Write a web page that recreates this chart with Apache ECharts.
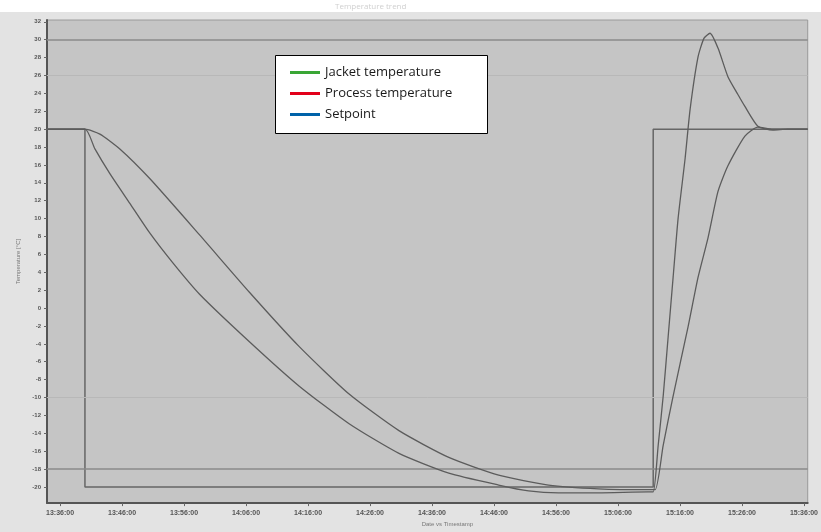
<!DOCTYPE html>
<html>
<head>
<meta charset="utf-8">
<script src="https://cdn.jsdelivr.net/npm/echarts@6/dist/echarts.min.js"></script>
<style>
html,body{margin:0;padding:0;background:#e3e3e3;}
#chart{width:821px;height:532px;}
</style>
</head>
<body>
<div id="chart"></div>
<script>
// ---- data (x in minutes from first tick label, y in °C) ----
var xTickLabels = ['13:36:00','13:46:00','13:56:00','14:06:00','14:16:00','14:26:00','14:36:00','14:46:00','14:56:00','15:06:00','15:16:00','15:26:00','15:36:00'];
var xTickValues = [0,10,20,30,40,50,60,70,80,90,100,110,120];
var yTickValues = [-20,-18,-16,-14,-12,-10,-8,-6,-4,-2,0,2,4,6,8,10,12,14,16,18,20,22,24,26,28,30,32];

var jacketTime = [-2.1,4.02,5.63,8.04,11.26,14.47,18.17,22.51,30.55,38.59,46.63,54.67,62.71,70.75,75.58,80.4,86.83,94.87,95.68,96.48,97.29,98.09,98.89,99.7,100.82,101.63,102.91,103.88,104.84,106.13,107.73,109.34,110.47,112.56,114.97,117.38,120.6];
var jacketTemp = [20,20,17.79,15.03,11.71,8.40,5.08,1.55,-3.76,-8.73,-12.93,-16.24,-18.45,-19.78,-20.44,-20.66,-20.66,-20.55,-20.55,-15.36,-9.83,-3.20,3.43,10.06,16.69,22.21,28.07,30.17,30.72,29.06,25.86,23.87,22.54,20.33,19.89,20,20];

var processTime = [-2.1,4.02,6.43,9.65,14.47,22.51,30.55,38.59,46.63,54.67,62.71,70.75,78.79,86.83,94.87,96.0,97.29,98.89,101.3,102.91,104.52,106.13,107.73,110.47,112.56,114.97,120.6];
var processTemp = [20,20,19.45,17.79,14.48,8.18,1.77,-4.31,-9.61,-13.70,-16.69,-18.67,-19.78,-20.2,-20.3,-20.3,-15.36,-9.83,-2.10,3.43,7.85,13.04,15.91,19.23,20.22,20,20];

var setpointTime = [-2.1,4.02,4.02,95.68,95.68,120.6];
var setpointTemp = [20,20,-20,-20,20,20];

var limitLines = [30,-18];
var faintLines = [26,-10];

var seriesNames = ['Jacket temperature','Process temperature','Setpoint'];
var legendColors = ['#3aa635','#e2001a','#0062a9'];

function zip(a,b){return a.map(function(v,i){return [v,b[i]];});}

var chart = echarts.init(document.getElementById('chart'));
var lineGray = '#5c5c5c';

var option = {
  backgroundColor: '#e3e3e3',
  animation: false,
  graphic: [
    {type:'rect', left:0, top:0, shape:{width:821,height:12}, style:{fill:'#ffffff'}, z:0},
    {type:'text', left:335, top:3, style:{text:'Temperature trend', fill:'#d0d0d0', font:'8px "Open Sans"'}, z:1},
    {type:'rect', left:275, top:55, shape:{width:212,height:78}, style:{fill:'#ffffff', stroke:'#000000', lineWidth:1}, z:50}
  ],
  grid: {left:47, right:11, top:20, bottom:24, show:true, backgroundColor:'#c5c5c5', borderColor:'#9a9a9a', borderWidth:1},
  legend: {
    orient:'vertical', left:285, top:61, itemWidth:30, itemHeight:3, itemGap:8,
    textStyle:{fontFamily:'Open Sans', fontSize:13, color:'#1a1a1a'},
    z:60,
    data: seriesNames.map(function(n,i){return {name:n, icon:'rect', itemStyle:{color:legendColors[i]}};})
  },
  xAxis: {
    type:'value', min:-2.1, max:120.6,
    name:'Date vs Timestamp', nameLocation:'middle', nameGap:13,
    nameTextStyle:{fontSize:6, color:'#777', padding:[0,0,0,40]},
    axisLine:{onZero:false, lineStyle:{color:'#555', width:2}},
    axisTick:{show:true, customValues:xTickValues, length:3, lineStyle:{color:'#666'}},
    axisLabel:{customValues:xTickValues, fontSize:7, fontWeight:'bold', color:'#555', margin:6,
      formatter:function(v){var i=xTickValues.indexOf(v);return i>=0?xTickLabels[i]:'';}},
    splitLine:{show:false}
  },
  yAxis: {
    type:'value', min:-21.8, max:32.2,
    name:'Temperature [°C]', nameLocation:'middle', nameGap:20, nameRotate:90,
    nameTextStyle:{fontSize:6, color:'#777'},
    axisLine:{show:true, onZero:false, lineStyle:{color:'#555', width:2}},
    axisTick:{show:true, customValues:yTickValues, length:3, lineStyle:{color:'#666'}},
    axisLabel:{customValues:yTickValues, fontSize:6, fontWeight:'bold', color:'#555', margin:6},
    splitLine:{show:false}
  },
  series: [
    {name:seriesNames[0], type:'line', data:zip(jacketTime,jacketTemp), showSymbol:false, smooth:0.2,
      itemStyle:{color:legendColors[0]}, lineStyle:{color:lineGray, width:1.3}, z:5},
    {name:seriesNames[1], type:'line', data:zip(processTime,processTemp), showSymbol:false, smooth:0.2,
      itemStyle:{color:legendColors[1]}, lineStyle:{color:lineGray, width:1.3}, z:5},
    {name:seriesNames[2], type:'line', data:zip(setpointTime,setpointTemp), showSymbol:false,
      itemStyle:{color:legendColors[2]}, lineStyle:{color:'#666', width:1.5}, z:4,
      markLine:{silent:true, symbol:'none', label:{show:false},
        data: limitLines.map(function(v){return {yAxis:v, lineStyle:{color:'#8a8a8a', width:1.5, type:'solid'}};})
          .concat(faintLines.map(function(v){return {yAxis:v, lineStyle:{color:'#b8b8b8', width:1, type:'solid'}};}))}
    }
  ]
};
chart.setOption(option);
</script>
</body>
</html>
